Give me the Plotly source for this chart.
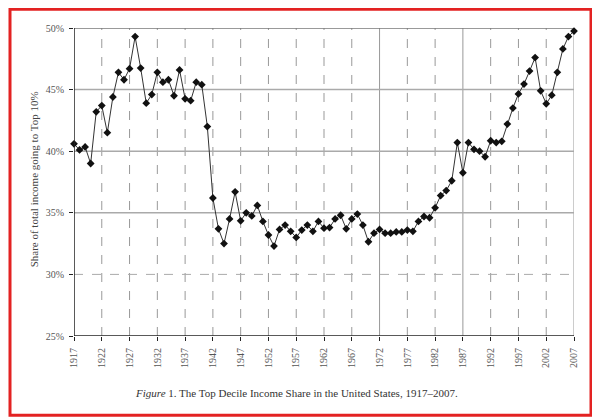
import plotly.graph_objects as go

# top decile income share (percent)
years = list(range(1917, 2008))
share = [
    40.6, 40.1, 40.35, 39.0, 43.2, 43.7, 41.5, 44.4, 46.4, 45.8,   # 1917-1926
    46.7, 49.3, 46.75, 43.9, 44.6, 46.4, 45.6, 45.8, 44.5, 46.6,   # 1927-1936
    44.25, 44.1, 45.6, 45.4, 42.0, 36.2, 33.7, 32.5, 34.5, 36.7,   # 1937-1946
    34.35, 35.0, 34.75, 35.6, 34.3, 33.2, 32.3, 33.65, 34.0, 33.5, # 1947-1956
    33.0, 33.6, 34.0, 33.5, 34.3, 33.75, 33.8, 34.5, 34.8, 33.7,   # 1957-1966
    34.5, 34.9, 34.0, 32.65, 33.35, 33.65, 33.35, 33.35, 33.45, 33.45, # 1967-1976
    33.6, 33.5, 34.3, 34.7, 34.6, 35.4, 36.4, 36.8, 37.6, 40.7,    # 1977-1986
    38.25, 40.7, 40.15, 40.0, 39.55, 40.85, 40.7, 40.8, 42.2, 43.5, # 1987-1996
    44.65, 45.45, 46.5, 47.6, 44.9, 43.85, 44.55, 46.4, 48.3, 49.3, # 1997-2006
    49.75,                                                          # 2007
]

x_ticks = list(range(1917, 2008, 5))
y_ticks = [25, 30, 35, 40, 45, 50]
y_labels = [f"{v}%" for v in y_ticks]

fig = go.Figure()
fig.add_trace(go.Scatter(
    x=years, y=share, mode="lines+markers",
    line=dict(color="#333333", width=1),
    marker=dict(symbol="diamond", size=6, color="#111111"),
    cliponaxis=False,
    showlegend=False,
))

# grid lines (mostly dashed, a few solid as in the scan)
shapes = []
solid_years = [1972, 1987, 2007]
for yr in x_ticks[1:]:
    shapes.append(dict(type="line", xref="x", yref="y", x0=yr, x1=yr, y0=25, y1=50,
                       line=dict(color="#999999", width=1,
                                 dash="solid" if yr in solid_years else "dash"),
                       layer="below"))
for v in y_ticks[1:]:
    shapes.append(dict(type="line", xref="x", yref="y", x0=1917, x1=2007, y0=v, y1=v,
                       line=dict(color="#777777" if v == 50 else "#aaaaaa",
                                 width=1.5 if v != 30 else 1,
                                 dash="dash" if v == 30 else "solid"),
                       layer="below"))
# axis lines
shapes.append(dict(type="line", xref="x", yref="y", x0=1917, x1=1917, y0=25, y1=50,
                   line=dict(color="#222222", width=1.5)))
shapes.append(dict(type="line", xref="x", yref="y", x0=1917, x1=2007, y0=25, y1=25,
                   line=dict(color="#222222", width=1.5)))
# red frame around the picture
shapes.append(dict(type="rect", xref="paper", yref="paper",
                   x0=-0.128, x1=1.034, y0=-0.257, y1=1.061,
                   line=dict(color="#e32222", width=3)))

fig.update_layout(
    width=592, height=410,
    margin=dict(l=65.5, r=26, t=20.3, b=82),
    paper_bgcolor="white", plot_bgcolor="white",
    font=dict(family="Liberation Serif", color="#555555"),
    shapes=shapes,
    xaxis=dict(range=[1917, 2007], tickvals=x_ticks, ticktext=[str(t) for t in x_ticks],
               tickangle=-90, tickfont=dict(size=10), showgrid=False, zeroline=False,
               showline=False, ticks="outside", ticklen=4, tickcolor="#222222",
               ticklabelstandoff=3),
    yaxis=dict(range=[25, 50], tickvals=y_ticks, ticktext=y_labels,
               tickfont=dict(size=10), showgrid=False, zeroline=False,
               showline=False, ticks="outside", ticklen=4, tickcolor="#222222",
               ticklabelstandoff=3),
    annotations=[
        dict(text="Share of total income going to Top 10%", textangle=-90,
             xref="paper", yref="paper", x=-0.097, y=0.507, showarrow=False,
             font=dict(size=11, color="#444444")),
        dict(text="<i>Figure</i> 1. The Top Decile Income Share in the United States, 1917–2007.",
             xref="paper", yref="paper", x=0.445, y=-0.211, showarrow=False,
             font=dict(size=11, color="#333333")),
    ],
)

fig.write_html("out.html")
